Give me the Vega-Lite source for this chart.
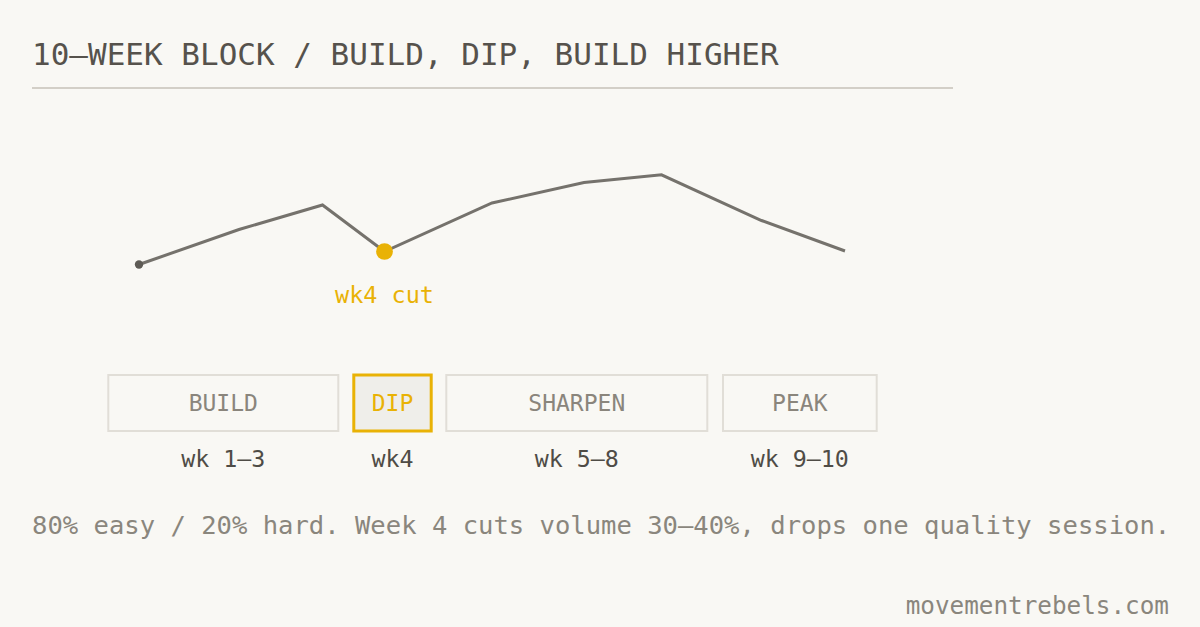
{
  "$schema": "https://vega.github.io/schema/vega-lite/v6.json",
  "width": 1200,
  "height": 627,
  "autosize": {"type": "fit", "contains": "padding"},
  "padding": 0,
  "background": "#f9f8f4",
  "config": {"view": {"stroke": null}, "text": {"font": "DejaVu Sans Mono"}},
  "datasets": {
    "line": [
      {"wk": 1, "x": 139, "y": 264.5},
      {"wk": 2, "x": 239, "y": 229.5},
      {"wk": 3, "x": 322.5, "y": 205},
      {"wk": 4, "x": 384.5, "y": 251.5},
      {"wk": 5, "x": 492, "y": 203},
      {"wk": 6, "x": 584, "y": 182.5},
      {"wk": 7, "x": 661.5, "y": 174.8},
      {"wk": 8, "x": 761.5, "y": 220.5},
      {"wk": 9, "x": 845, "y": 251}
    ],
    "boxes": [
      {"phase": "BUILD", "x1": 108.3, "x2": 338.3, "y1": 375, "y2": 431, "cx": 223.3, "weeks": "wk 1–3", "dip": false},
      {"phase": "DIP", "x1": 353.8, "x2": 431.2, "y1": 375, "y2": 431, "cx": 392.5, "weeks": "wk4", "dip": true},
      {"phase": "SHARPEN", "x1": 446.3, "x2": 707.3, "y1": 375, "y2": 431, "cx": 576.8, "weeks": "wk 5–8", "dip": false},
      {"phase": "PEAK", "x1": 723, "x2": 876.7, "y1": 375, "y2": 431, "cx": 799.8, "weeks": "wk 9–10", "dip": false}
    ],
    "rule": [{"x1": 32, "x2": 953, "y": 88}],
    "texts": [
      {"role": "title", "x": 32, "y": 65, "text": "10–WEEK BLOCK / BUILD, DIP, BUILD HIGHER"},
      {"role": "note", "x": 32, "y": 534, "text": "80% easy / 20% hard. Week 4 cuts volume 30–40%, drops one quality session."},
      {"role": "credit", "x": 1169, "y": 614, "text": "movementrebels.com"},
      {"role": "cut", "x": 384.5, "y": 303, "text": "wk4 cut"}
    ]
  },
  "layer": [
    {
      "data": {"name": "rule"},
      "mark": {"type": "rule", "stroke": "#d3cfc7", "strokeWidth": 2},
      "encoding": {
        "x": {"field": "x1", "type": "quantitative", "scale": {"domain": [0, 1200]}, "axis": null},
        "x2": {"field": "x2"},
        "y": {"field": "y", "type": "quantitative", "scale": {"domain": [0, 627], "reverse": true}, "axis": null}
      }
    },
    {
      "data": {"name": "texts"},
      "transform": [{"filter": "datum.role === 'title'"}],
      "mark": {"type": "text", "align": "left", "baseline": "alphabetic", "fontSize": 31, "color": "#56524c"},
      "encoding": {
        "x": {"field": "x", "type": "quantitative", "scale": {"domain": [0, 1200]}, "axis": null},
        "y": {"field": "y", "type": "quantitative", "scale": {"domain": [0, 627], "reverse": true}, "axis": null},
        "text": {"field": "text"}
      }
    },
    {
      "data": {"name": "line"},
      "mark": {"type": "line", "stroke": "#75726c", "strokeWidth": 3, "strokeJoin": "miter"},
      "encoding": {
        "x": {"field": "x", "type": "quantitative", "scale": {"domain": [0, 1200]}, "axis": null},
        "y": {"field": "y", "type": "quantitative", "scale": {"domain": [0, 627], "reverse": true}, "axis": null},
        "order": {"field": "wk"}
      }
    },
    {
      "data": {"name": "line"},
      "transform": [{"filter": "datum.wk === 1"}],
      "mark": {"type": "circle", "size": 70, "color": "#5e5b55", "opacity": 1},
      "encoding": {
        "x": {"field": "x", "type": "quantitative", "scale": {"domain": [0, 1200]}, "axis": null},
        "y": {"field": "y", "type": "quantitative", "scale": {"domain": [0, 627], "reverse": true}, "axis": null}
      }
    },
    {
      "data": {"name": "line"},
      "transform": [{"filter": "datum.wk === 4"}],
      "mark": {"type": "circle", "size": 280, "color": "#e9b205", "opacity": 1},
      "encoding": {
        "x": {"field": "x", "type": "quantitative", "scale": {"domain": [0, 1200]}, "axis": null},
        "y": {"field": "y", "type": "quantitative", "scale": {"domain": [0, 627], "reverse": true}, "axis": null}
      }
    },
    {
      "data": {"name": "texts"},
      "transform": [{"filter": "datum.role === 'cut'"}],
      "mark": {"type": "text", "align": "center", "baseline": "alphabetic", "fontSize": 23.5, "color": "#e9b205"},
      "encoding": {
        "x": {"field": "x", "type": "quantitative", "scale": {"domain": [0, 1200]}, "axis": null},
        "y": {"field": "y", "type": "quantitative", "scale": {"domain": [0, 627], "reverse": true}, "axis": null},
        "text": {"field": "text"}
      }
    },
    {
      "data": {"name": "boxes"},
      "transform": [{"filter": "!datum.dip"}],
      "mark": {"type": "rect", "fill": null, "fillOpacity": 0, "stroke": "#e1ded7", "strokeWidth": 2},
      "encoding": {
        "x": {"field": "x1", "type": "quantitative", "scale": {"domain": [0, 1200]}, "axis": null},
        "x2": {"field": "x2"},
        "y": {"field": "y1", "type": "quantitative", "scale": {"domain": [0, 627], "reverse": true}, "axis": null},
        "y2": {"field": "y2"}
      }
    },
    {
      "data": {"name": "boxes"},
      "transform": [{"filter": "datum.dip"}],
      "mark": {"type": "rect", "fill": "#efeeea", "stroke": "#e9b205", "strokeWidth": 3},
      "encoding": {
        "x": {"field": "x1", "type": "quantitative", "scale": {"domain": [0, 1200]}, "axis": null},
        "x2": {"field": "x2"},
        "y": {"field": "y1", "type": "quantitative", "scale": {"domain": [0, 627], "reverse": true}, "axis": null},
        "y2": {"field": "y2"}
      }
    },
    {
      "data": {"name": "boxes"},
      "transform": [{"calculate": "411", "as": "ly"}],
      "mark": {"type": "text", "align": "center", "baseline": "alphabetic", "fontSize": 23},
      "encoding": {
        "x": {"field": "cx", "type": "quantitative", "scale": {"domain": [0, 1200]}, "axis": null},
        "y": {"field": "ly", "type": "quantitative", "scale": {"domain": [0, 627], "reverse": true}, "axis": null},
        "text": {"field": "phase"},
        "color": {"condition": {"test": "datum.dip", "value": "#e9b205"}, "value": "#8a857c"}
      }
    },
    {
      "data": {"name": "boxes"},
      "transform": [{"calculate": "467", "as": "ly"}],
      "mark": {"type": "text", "align": "center", "baseline": "alphabetic", "fontSize": 23.3, "color": "#4f4c46"},
      "encoding": {
        "x": {"field": "cx", "type": "quantitative", "scale": {"domain": [0, 1200]}, "axis": null},
        "y": {"field": "ly", "type": "quantitative", "scale": {"domain": [0, 627], "reverse": true}, "axis": null},
        "text": {"field": "weeks"}
      }
    },
    {
      "data": {"name": "texts"},
      "transform": [{"filter": "datum.role === 'note'"}],
      "mark": {"type": "text", "align": "left", "baseline": "alphabetic", "fontSize": 25.55, "color": "#8a867d"},
      "encoding": {
        "x": {"field": "x", "type": "quantitative", "scale": {"domain": [0, 1200]}, "axis": null},
        "y": {"field": "y", "type": "quantitative", "scale": {"domain": [0, 627], "reverse": true}, "axis": null},
        "text": {"field": "text"}
      }
    },
    {
      "data": {"name": "texts"},
      "transform": [{"filter": "datum.role === 'credit'"}],
      "mark": {"type": "text", "align": "right", "baseline": "alphabetic", "fontSize": 24.3, "color": "#8a867d"},
      "encoding": {
        "x": {"field": "x", "type": "quantitative", "scale": {"domain": [0, 1200]}, "axis": null},
        "y": {"field": "y", "type": "quantitative", "scale": {"domain": [0, 627], "reverse": true}, "axis": null},
        "text": {"field": "text"}
      }
    }
  ]
}
